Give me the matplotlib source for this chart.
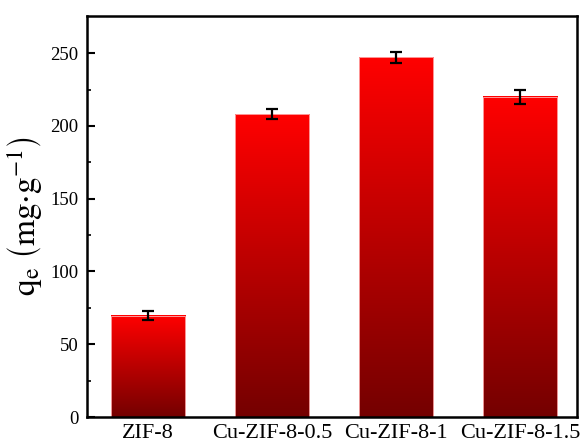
import matplotlib.pyplot as plt
import numpy as np
from matplotlib.colors import LinearSegmentedColormap

plt.rcParams['font.family'] = ['Liberation Serif', 'DejaVu Serif']
plt.rcParams['mathtext.fontset'] = 'stix'

samples = ['ZIF-8', 'Cu-ZIF-8-0.5', 'Cu-ZIF-8-1', 'Cu-ZIF-8-1.5']
qe = [69.5, 208.0, 247.0, 220.0]
qe_err = [3.0, 3.3, 4.0, 4.7]

fig = plt.figure(figsize=(5.82, 4.45), dpi=100)
ax = fig.add_axes([87 / 582, 28 / 445, 490 / 582, 401 / 445])

x = np.arange(len(samples))
bars = ax.bar(x, qe, width=0.6, color='none', edgecolor='#ffb0b0', linewidth=0.6, zorder=2)

# vertical gradient, dark at the bottom of each bar, bright red at its top
cmap = LinearSegmentedColormap.from_list('redgrad', ['#740000', '#ff0000'])
grad = np.linspace(0, 1, 256).reshape(-1, 1)
for b in bars:
    x0, w, h = b.get_x(), b.get_width(), b.get_height()
    ax.imshow(grad, cmap=cmap, origin='lower', aspect='auto',
              extent=(x0, x0 + w, 0, h), zorder=1, interpolation='bicubic')

ax.errorbar(x, qe, yerr=qe_err, fmt='none', ecolor='black', elinewidth=1.6,
            capsize=4.5, capthick=1.6, zorder=3)

ax.set_xlim(-0.49, 3.46)
ax.set_ylim(0, 275.5)
ax.set_xticks(x)
ax.set_xticklabels(samples, fontsize=16)
ax.set_yticks([0, 50, 100, 150, 200, 250])
ax.set_yticks(np.arange(25, 275, 50), minor=True)
ax.tick_params(axis='y', which='major', direction='in', length=6, width=1.5, labelsize=13.5, pad=6)
ax.tick_params(axis='y', which='minor', direction='in', length=3, width=1.2)
ax.tick_params(axis='x', which='both', length=0, pad=5)
for s in ax.spines.values():
    s.set_linewidth(1.8)

ax.set_ylabel(r'$\mathrm{q_e\ \left(mg{\cdot}g^{-1}\right)}$', fontsize=24, labelpad=4)

fig.savefig('out.png', dpi=100)
